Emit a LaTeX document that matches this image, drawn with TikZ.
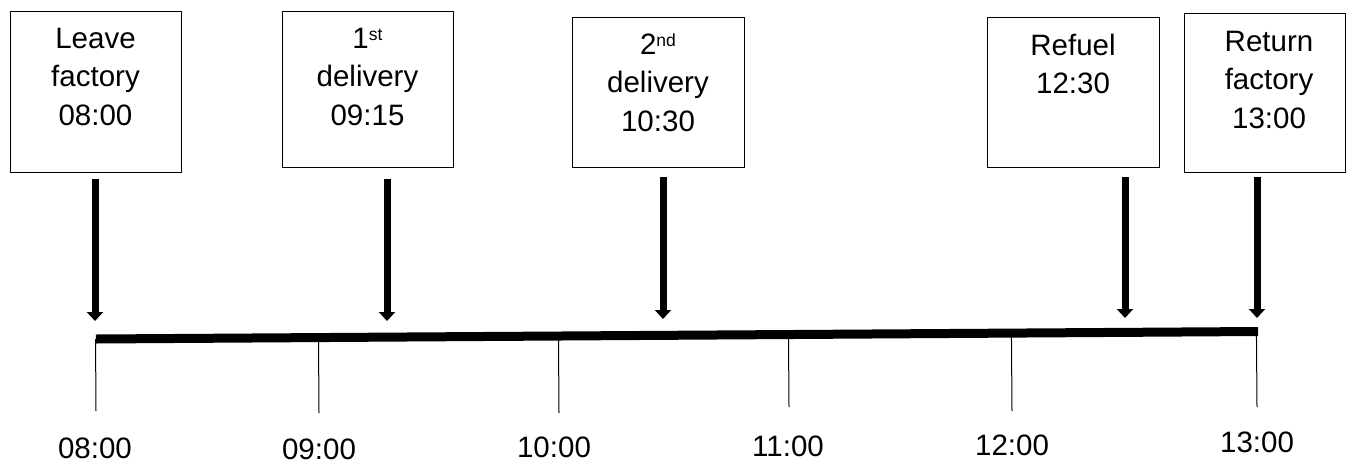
\documentclass[tikz,border=0pt]{standalone}
\usepackage{fontspec}
\setmainfont{Liberation Sans}
\usetikzlibrary{arrows.meta,calc}

\begin{document}
\begin{tikzpicture}[x=1pt,y=-1pt,
  eventbox/.style={draw=black, line width=1pt, inner sep=0pt, anchor=north west},
  boxtext/.style={inner sep=0pt, anchor=base, font=\fontsize{29.5}{38.5}\selectfont},
  hourlbl/.style={inner sep=0pt, anchor=center, font=\fontsize{29.5}{34}\selectfont},
  evarrow/.style={line width=7pt, -{Triangle[width=16pt,length=9pt]}},
  axisbar/.style={line width=9pt, line cap=butt},
  tickline/.style={line width=1pt}
]
\newcommand{\ordsup}[1]{\raisebox{8pt}{\fontsize{17.5}{17.5}\selectfont #1}}
\useasboundingbox (0,0) rectangle (1346,464);

% event boxes
\node[eventbox, minimum width=171pt, minimum height=161pt] (b1) at (10,11) {};
\node[eventbox, minimum width=171pt, minimum height=156pt] (b2) at (282,11) {};
\node[eventbox, minimum width=172pt, minimum height=150pt] (b3) at (572,17) {};
\node[eventbox, minimum width=172pt, minimum height=150pt] (b4) at (987,17) {};
\node[eventbox, minimum width=161pt, minimum height=159pt] (b5) at (1184,13) {};

% box captions
\node[boxtext] (t1) at (95.5,48) {\parbox[t]{160pt}{\centering Leave\\factory\\08:00}};
\node[boxtext] (t2) at (367.5,48) {\parbox[t]{160pt}{\centering 1\ordsup{st}\\delivery\\09:15}};
\node[boxtext] (t3) at (658,54) {\parbox[t]{160pt}{\centering 2\ordsup{nd}\\delivery\\10:30}};
\node[boxtext] (t4) at (1073,55) {\parbox[t]{160pt}{\centering Refuel\\12:30}};
\node[boxtext] (t5) at (1269,51) {\parbox[t]{160pt}{\centering Return\\factory\\13:00}};

% time axis
\coordinate (ax0) at (96,339);
\coordinate (ax1) at (1258,331.5);
\draw[axisbar] (ax0) -- (ax1);

% arrow tips on the axis
\coordinate (m1) at (95,321);
\coordinate (m2) at (387,321);
\coordinate (m3) at (663,319);
\coordinate (m4) at (1125,318);
\coordinate (m5) at (1257,318);

\draw[evarrow] ([yshift=-6pt]b1.south -| m1) -- (m1);
\draw[evarrow] ([yshift=-11pt]b2.south -| m2) -- (m2);
\draw[evarrow] ([yshift=-9pt]b3.south -| m3) -- (m3);
\draw[evarrow] ([yshift=-9pt]b4.south -| m4) -- (m4);
\draw[evarrow] ([yshift=-4pt]b5.south -| m5) -- (m5);

% hour ticks
\coordinate (k08) at (96,411);
\coordinate (k09) at (319,413);
\coordinate (k10) at (559,413);
\coordinate (k11) at (789,407);
\coordinate (k12) at (1012,411);
\coordinate (k13) at (1257,407);
\foreach \k in {08,09,10,11,12,13}
  \draw[tickline] ($(ax0)!(k\k)!(ax1)$) -- (k\k);

% hour labels
\node[hourlbl] (l08) at (95,448) {08:00};
\node[hourlbl] (l09) at (319,449) {09:00};
\node[hourlbl] (l10) at (554,447) {10:00};
\node[hourlbl] (l11) at (788,446) {11:00};
\node[hourlbl] (l12) at (1012,445) {12:00};
\node[hourlbl] (l13) at (1257,442) {13:00};
\end{tikzpicture}
\end{document}
